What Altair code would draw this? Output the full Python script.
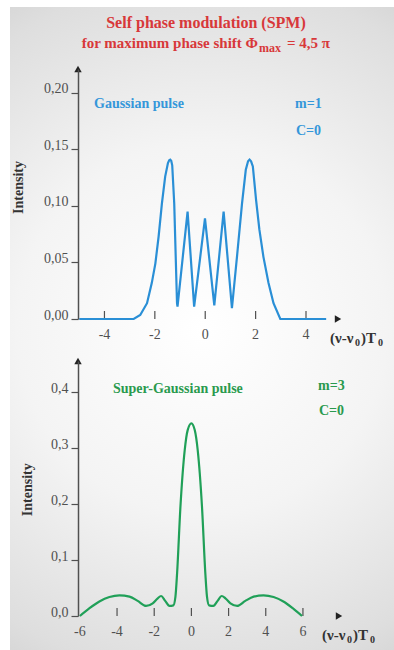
import altair as alt
import pandas as pd

# ---------------- data ----------------
# Gaussian pulse (m=1, C=0) SPM spectrum
g_x = [-5.0, -2.84, -2.58, -2.31, -2.12, -1.98, -1.85, -1.72, -1.59, -1.48, -1.43, -1.39,
       -1.35, -1.31, -1.23, -1.12, -1.10, -0.70, -0.44, -0.01, 0.36, 0.73, 1.06, 1.26,
       1.46, 1.61, 1.70, 1.76, 1.82, 1.89, 2.02, 2.15, 2.31, 2.51, 2.71, 2.98, 4.80]
g_y = [0.0, 0.0, 0.0035, 0.014, 0.032, 0.049, 0.073, 0.102, 0.126, 0.138, 0.1405, 0.141,
       0.140, 0.136, 0.102, 0.014, 0.011, 0.095, 0.011, 0.089, 0.012, 0.095, 0.0095, 0.055,
       0.102, 0.132, 0.1395, 0.141, 0.1395, 0.135, 0.105, 0.079, 0.055, 0.032, 0.014, 0.0, 0.0]

# Super-Gaussian pulse (m=3, C=0) SPM spectrum
sg_x = [-6.0, -5.48, -4.95, -4.41, -3.87, -3.33, -2.89, -2.44, -2.08, -1.81, -1.63, -1.41,
        -1.18, -0.97, -0.86, -0.77, -0.59, -0.36, -0.20, 0.0, 0.18, 0.34, 0.57, 0.75, 0.84,
        0.95, 1.18, 1.41, 1.63, 1.83, 2.10, 2.46, 2.90, 3.35, 3.88, 4.42, 4.95, 5.45, 5.95]
sg_y = [0.0, 0.014, 0.026, 0.034, 0.037, 0.0345, 0.027, 0.018, 0.0226, 0.0316, 0.0357, 0.027,
        0.018, 0.019, 0.034, 0.076, 0.195, 0.296, 0.332, 0.344, 0.332, 0.296, 0.195, 0.076, 0.034,
        0.019, 0.018, 0.027, 0.0357, 0.0316, 0.0226, 0.018, 0.027, 0.0345, 0.037, 0.034, 0.026, 0.014, 0.0]

top_x_ticks = [-4, -2, 0, 2, 4]
top_x_labels = ["-4", "-2", "0", "2", "4"]
top_y_ticks = [0.0, 0.05, 0.10, 0.15, 0.20]
bot_x_ticks = [-6, -4, -2, 0, 2, 4, 6]
bot_x_labels = ["-6", "-4", "-2", "0", "2", "4", "6"]
bot_y_ticks = [0.0, 0.1, 0.2, 0.3, 0.4]

title1 = "Self phase modulation (SPM)"
title2a = "for maximum phase shift \u03a6"
title2b = "max"
title2c = "= 4,5 \u03c0"

# ---------------- style ----------------
FONT = "Liberation Serif, Times New Roman, serif"
RED = "#d8383a"
BLUE = "#2a8fd6"
BLUE_T = "#3597da"
GREEN = "#20a058"
GREEN_T = "#2a9a4e"
AX = "#505050"

ONE = alt.Data(values=[{}])


def txt(s, x, y, size, color, bold=True, align="left", angle=0, baseline="alphabetic"):
    kw = dict(text=s, font=FONT, fontSize=size, fontWeight="bold" if bold else "normal",
              color=color, align=align, baseline=baseline)
    if angle:
        kw["angle"] = angle
    return alt.Chart(ONE).mark_text(**kw).encode(x=alt.value(x), y=alt.value(y))


def panel(xs, ys, color, xdom, ydom, W, H, xticks, xlabels, yticks, yfmt, tickrules, interp):
    df = pd.DataFrame({"x": xs, "y": ys})
    xs_ = alt.Scale(domain=xdom, nice=False, zero=False)
    ys_ = alt.Scale(domain=ydom, nice=False, zero=False)
    line = alt.Chart(df).mark_line(color=color, strokeWidth=2.2, interpolate=interp).encode(
        x=alt.X("x:Q", scale=xs_, axis=alt.Axis(
            values=xticks, ticks=False, labels=False, grid=False, domain=True,
            domainColor=AX, domainWidth=1.5, title=None, zindex=1)),
        y=alt.Y("y:Q", scale=ys_, axis=alt.Axis(
            values=yticks, ticks=True, tickSize=7, tickColor=AX, tickWidth=1.2, grid=False,
            domain=True, domainColor=AX, domainWidth=1.5, labelFont=FONT, labelFontSize=14,
            labelColor=AX, labelPadding=3, labelBaseline="alphabetic", labelFlush=False,
            labelOverlap=False,
            labelExpr="replace(format(datum.value, '%s'), '.', ',')" % yfmt,
            title=None, zindex=1)),
    )
    tk = alt.Chart(pd.DataFrame({"t": tickrules})).mark_rule(color=AX, strokeWidth=1.2).encode(
        x=alt.X("t:Q", scale=xs_, axis=None), y=alt.value(H), y2=alt.value(H - 8))
    lab = alt.Chart(pd.DataFrame({"t": xticks, "lab": xlabels})).mark_text(
        font=FONT, fontSize=14, color=AX, baseline="top", align="center").encode(
        x=alt.X("t:Q", scale=xs_, axis=None), y=alt.value(H + 9), text="lab:N")
    arr_x = alt.Chart(ONE).mark_point(shape="triangle-right", filled=True, size=55,
                                      color="#222", opacity=1).encode(
        x=alt.value(W), y=alt.value(H))
    arr_y = alt.Chart(ONE).mark_point(shape="triangle-up", filled=True, size=55,
                                      color="#222", opacity=1).encode(
        x=alt.value(0), y=alt.value(0))
    return line, tk, lab, arr_x, arr_y


# ---------------- top panel (origin at 78, 69) ----------------
TW, TH = 260, 250
t_line, t_tk, t_lab, t_ax, t_ay = panel(g_x, g_y, BLUE, [-5.05, 5.27], [0, 0.2212], TW, TH,
                                        top_x_ticks, top_x_labels, top_y_ticks, ".2f",
                                        top_x_ticks, "linear")

grad = alt.RadialGradient(
    gradient="radial", x1=0.5, y1=0.5, r1=0, x2=0.5, y2=0.5, r2=0.72,
    stops=[alt.GradientStop(color="#ffffff", offset=0),
           alt.GradientStop(color="#f4f4f4", offset=0.4),
           alt.GradientStop(color="#dedede", offset=0.75),
           alt.GradientStop(color="#c4c4c4", offset=1)])

bg_white = alt.Chart(ONE).mark_rect(color="#ffffff").encode(
    x=alt.value(-78), x2=alt.value(316), y=alt.value(-69), y2=alt.value(581))
bg_grad = alt.Chart(ONE).mark_rect(fill=grad, strokeWidth=0).encode(
    x=alt.value(-68), x2=alt.value(316), y=alt.value(-62), y2=alt.value(581))

top = alt.layer(
    bg_white, bg_grad, t_tk, t_line, t_lab, t_ax, t_ay,
    txt(title1, 128, -41, 16, RED, align="center"),
    txt(title2a, 180, -21, 15, RED, align="right"),
    txt(title2b, 181, -17, 12, RED),
    txt(title2c, 209, -21, 15, RED),
    txt("Gaussian pulse", 16, 38.7, 14, BLUE_T),
    txt("m=1", 217, 38.7, 14, BLUE_T),
    txt("C=0", 218, 66, 14, BLUE_T),
    txt("Intensity", -59, 118.5, 14, "#333", angle=270, align="center", baseline="middle"),
    txt("(\u03bd-\u03bd", 252, 274, 15, "#333"),
    txt("0", 277, 277, 10, "#333"),
    txt(")T", 283, 274, 15, "#333"),
    txt("0", 300, 277, 10, "#333"),
).properties(width=TW, height=TH)

# ---------------- bottom panel (origin at 78, 361) ----------------
BW, BH = 261, 255
b_line, b_tk, b_lab, b_ax, b_ay = panel(sg_x, sg_y, GREEN, [-6.1, 7.94], [0, 0.4554], BW, BH,
                                        bot_x_ticks, bot_x_labels, bot_y_ticks, ".1f",
                                        bot_x_ticks[1:], "monotone")

bottom = alt.layer(
    b_tk, b_line, b_lab, b_ax, b_ay,
    txt("Super-Gaussian pulse", 35, 32, 14, GREEN_T),
    txt("m=3", 240, 29, 14, GREEN_T),
    txt("C=0", 241, 54, 14, GREEN_T),
    txt("Intensity", -50.5, 128.7, 14, "#333", angle=270, align="center", baseline="middle"),
    txt("(\u03bd-\u03bd", 244, 279, 15, "#333"),
    txt("0", 269, 282, 10, "#333"),
    txt(")T", 275, 279, 15, "#333"),
    txt("0", 292, 282, 10, "#333"),
).properties(width=BW, height=BH)

chart = alt.vconcat(top, bottom, spacing=42, bounds="flush").resolve_scale(
    x="independent", y="independent").properties(padding=0).configure_view(stroke=None)

chart.save("out.html", embed_options={"renderer": "svg", "actions": False})
